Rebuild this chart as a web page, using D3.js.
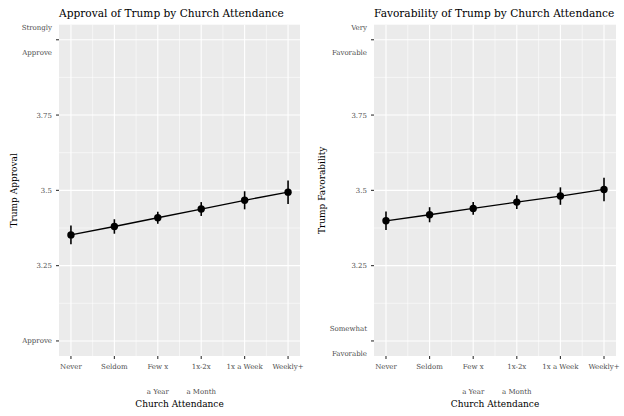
<!DOCTYPE html>
<html><head><meta charset="utf-8">
<script src="https://cdn.jsdelivr.net/npm/d3@7"></script>
<style>body{margin:0;background:#fff}svg{display:block}text{font-family:"DejaVu Serif",serif}</style>
</head><body><svg id="c" width="624" height="416"></svg>
<script>
const categories = ["Never","Seldom","Few x","1x-2x","1x a Week","Weekly+"];
const subLabels = ["","","a Year","a Month","",""];
const approvalMean = [3.352,3.380,3.409,3.438,3.467,3.494];
const approvalLow  = [3.321,3.356,3.389,3.415,3.437,3.455];
const approvalHigh = [3.383,3.404,3.429,3.461,3.497,3.533];
const favorMean = [3.399,3.419,3.440,3.461,3.481,3.503];
const favorLow  = [3.368,3.394,3.419,3.438,3.452,3.464];
const favorHigh = [3.430,3.444,3.461,3.484,3.510,3.542];
const yTicks = [3,3.25,3.5,3.75,4];
const approvalYLabels = [["Approve"],["3.25"],["3.5"],["3.75"],["Strongly","Approve"]];
const favorYLabels = [["Somewhat","Favorable"],["3.25"],["3.5"],["3.75"],["Very","Favorable"]];

const svg = d3.select("#c");

function panel(opt){
  const g = svg.append("g");
  const x = d3.scaleLinear().domain([0.725,6.275]).range([opt.left,opt.right]);
  const y = d3.scaleLinear().domain([2.95,4.05]).range([opt.bottom,opt.top]);
  g.append("rect").attr("x",opt.left).attr("y",opt.top).attr("width",opt.right-opt.left).attr("height",opt.bottom-opt.top).attr("fill","#ebebeb");
  const minorY = [3.125,3.375,3.625,3.875];
  const minorX = [1.5,2.5,3.5,4.5,5.5];
  g.selectAll(".my").data(minorY).enter().append("line").attr("x1",opt.left).attr("x2",opt.right).attr("y1",d=>y(d)).attr("y2",d=>y(d)).attr("stroke","#fff").attr("stroke-width",0.55);
  g.selectAll(".mx").data(minorX).enter().append("line").attr("y1",opt.top).attr("y2",opt.bottom).attr("x1",d=>x(d)).attr("x2",d=>x(d)).attr("stroke","#fff").attr("stroke-width",0.55);
  g.selectAll(".gy").data(yTicks).enter().append("line").attr("x1",opt.left).attr("x2",opt.right).attr("y1",d=>y(d)).attr("y2",d=>y(d)).attr("stroke","#fff").attr("stroke-width",1.1);
  g.selectAll(".gx").data(d3.range(1,7)).enter().append("line").attr("y1",opt.top).attr("y2",opt.bottom).attr("x1",d=>x(d)).attr("x2",d=>x(d)).attr("stroke","#fff").attr("stroke-width",1.1);
  // ticks
  g.selectAll(".ty").data(yTicks).enter().append("line").attr("x1",opt.left-3).attr("x2",opt.left).attr("y1",d=>y(d)).attr("y2",d=>y(d)).attr("stroke","#333").attr("stroke-width",1.1);
  g.selectAll(".tx").data(d3.range(1,7)).enter().append("line").attr("y1",opt.bottom).attr("y2",opt.bottom+3).attr("x1",d=>x(d)).attr("x2",d=>x(d)).attr("stroke","#333").attr("stroke-width",1.1);
  // y labels
  yTicks.forEach((t,i)=>{
    const lines = opt.yLabels[i];
    const lx = opt.left-7;
    const tx = g.append("text").attr("text-anchor","end").attr("fill","#4d4d4d").attr("font-size",7).attr("x",lx);
    if(lines.length===1){ tx.attr("y",y(t)+2.5).text(lines[0]); }
    else {
      tx.append("tspan").attr("x",lx).attr("y",y(t)-10).text(lines[0]);
      tx.append("tspan").attr("x",lx).attr("y",y(t)+15).text(lines[1]);
    }
  });
  // x labels
  categories.forEach((c,i)=>{
    g.append("text").attr("text-anchor","middle").attr("fill","#4d4d4d").attr("font-size",7).attr("x",x(i+1)).attr("y",opt.bottom+13).text(c);
    if(subLabels[i]) g.append("text").attr("text-anchor","middle").attr("fill","#4d4d4d").attr("font-size",7).attr("x",x(i+1)).attr("y",opt.bottom+38).text(subLabels[i]);
  });
  g.append("text").attr("text-anchor","middle").attr("font-size",9).attr("fill","#000").attr("x",(opt.left+opt.right)/2).attr("y",opt.bottom+50.5).text("Church Attendance");
  g.append("text").attr("text-anchor","middle").attr("font-size",9).attr("fill","#000").attr("transform",`translate(${opt.ytitleX},${(opt.top+opt.bottom)/2}) rotate(-90)`).text(opt.ytitle);
  g.append("text").attr("font-size",10.6).attr("fill","#000").attr("x",opt.left).attr("y",17).text(opt.title);
  // data
  const idx = d3.range(6);
  g.append("path").datum(idx).attr("fill","none").attr("stroke","#000").attr("stroke-width",1.3)
    .attr("d",d3.line().x(i=>x(i+1)).y(i=>y(opt.mean[i])));
  g.selectAll(".eb").data(idx).enter().append("line").attr("x1",i=>x(i+1)).attr("x2",i=>x(i+1)).attr("y1",i=>y(opt.low[i])).attr("y2",i=>y(opt.high[i])).attr("stroke","#000").attr("stroke-width",1.6);
  g.selectAll(".pt").data(idx).enter().append("circle").attr("cx",i=>x(i+1)).attr("cy",i=>y(opt.mean[i])).attr("r",3.7).attr("fill","#000");
}
panel({left:59,right:300,top:24.7,bottom:356,yLabels:approvalYLabels,ytitle:"Trump Approval",ytitleX:16.5,title:"Approval of Trump by Church Attendance",mean:approvalMean,low:approvalLow,high:approvalHigh});
panel({left:374,right:616,top:24.7,bottom:356,yLabels:favorYLabels,ytitle:"Trump Favorability",ytitleX:324.5,title:"Favorability of Trump by Church Attendance",mean:favorMean,low:favorLow,high:favorHigh});
</script></body></html>
